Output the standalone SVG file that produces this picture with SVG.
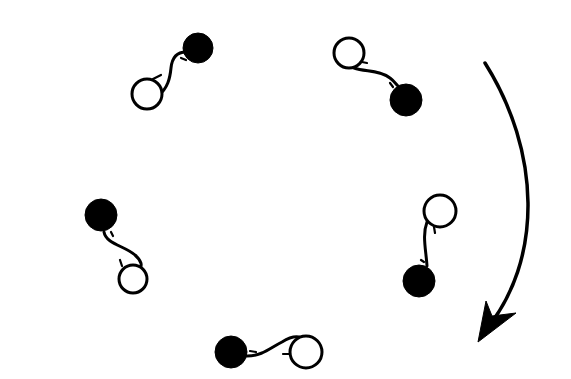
<svg xmlns="http://www.w3.org/2000/svg" width="571" height="379" viewBox="0 0 571 379">
<style>
.w{fill:#fff;stroke:#000;stroke-width:3}
.b{fill:#000;stroke:#000;stroke-width:1}
.l{fill:none;stroke:#000;stroke-width:3;stroke-linecap:round}
.h{fill:none;stroke:#000;stroke-width:2.2;stroke-linecap:round}
</style>
<rect width="571" height="379" fill="#fff"/>
<g id="connectors">
<path class="l" d="M158,96 C168,88 170,78 171,68 C172,58 176,52 186,52"/>
<path class="h" d="M153,79 L161,75 M181,58 L186,60"/>
<path class="l" d="M354,68 C365,72 380,70 390,78 C394,81 396,84 398,86"/>
<path class="h" d="M362,62 L367,63 M390,83 L393,87"/>
<path class="l" d="M104,232 C106,244 125,246 135,255 C142,261 142,266 140,268"/>
<path class="h" d="M120,260 L122,266 M111,232 L113,236"/>
<path class="l" d="M427,222 C422,235 426,250 427,266"/>
<path class="h" d="M434,227 L435,233 M421,260 L424,262"/>
<path class="l" d="M247,356 C262,356 270,348 282,342 C290,337 294,336 299,337"/>
<path class="h" d="M250,351 L256,352 M283,354 L289,354"/>
<path d="M485,63 C540,150 545,260 484,332" fill="none" stroke="#000" stroke-width="3.5" stroke-linecap="round"/>
<path d="M478,342 L486,301 L492,316 L516,313 Z" fill="#000" stroke="#000" stroke-width="1" stroke-linejoin="round"/>
</g>
<g id="pair1"><circle class="b" cx="198" cy="48" r="15"/><circle class="w" cx="147" cy="94" r="15"/></g>
<g id="pair2"><circle class="w" cx="349" cy="53" r="15"/><circle class="b" cx="406" cy="100" r="16"/></g>
<g id="pair3"><circle class="b" cx="101" cy="215" r="16"/><circle class="w" cx="133" cy="279" r="14"/></g>
<g id="pair4"><circle class="w" cx="440" cy="211" r="16"/><circle class="b" cx="419" cy="281" r="16"/></g>
<g id="pair5"><circle class="b" cx="231" cy="352" r="16"/><circle class="w" cx="306" cy="352" r="16"/></g>
</svg>
